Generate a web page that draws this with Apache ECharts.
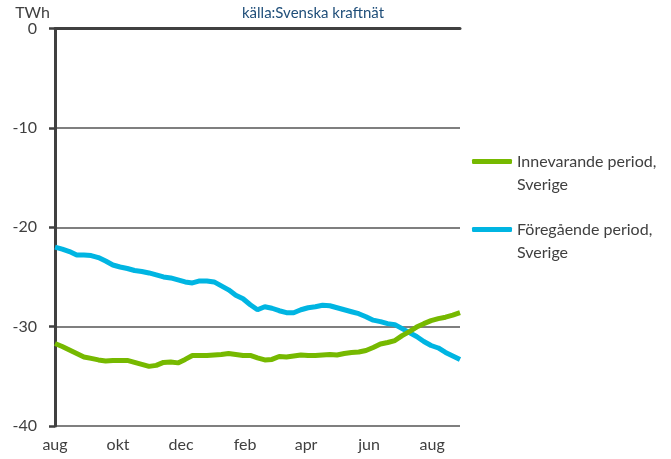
<!DOCTYPE html>
<html>
<head>
<meta charset="utf-8">
<script src="https://cdn.jsdelivr.net/npm/echarts@6/dist/echarts.min.js"></script>
<style>
  html, body { margin: 0; padding: 0; background: #fff; }
  #chart { width: 671px; height: 459px; }
</style>
</head>
<body>
<div id="chart"></div>
<script>
// veckodata, dagar från 1 aug
var days = [0, 7, 14, 21, 28, 35, 42, 49, 56, 63, 70, 77, 84, 91, 98, 105, 112, 119, 126, 133,
  140, 147, 154, 161, 168, 175, 182, 189, 196, 203, 210, 217, 224, 231, 238, 245, 252, 259, 266, 273,
  280, 287, 294, 301, 308, 315, 322, 329, 336, 343, 350, 357, 364, 371, 378, 385, 392];

var innevarande = [-31.7, -32.0, -32.35, -32.7, -33.05, -33.2, -33.35, -33.45, -33.4, -33.4,
  -33.4, -33.6, -33.8, -34.0, -33.9, -33.6, -33.55, -33.65, -33.3, -32.9,
  -32.9, -32.9, -32.85, -32.8, -32.7, -32.8, -32.9, -32.9, -33.15, -33.35,
  -33.3, -33.0, -33.05, -32.95, -32.85, -32.9, -32.9, -32.85, -32.8, -32.85,
  -32.7, -32.6, -32.55, -32.4, -32.1, -31.75, -31.6, -31.4, -30.9, -30.5,
  -30.05, -29.7, -29.4, -29.2, -29.05, -28.85, -28.6];

var foregaende = [-22.0, -22.2, -22.45, -22.8, -22.8, -22.85, -23.05, -23.4, -23.8, -24.0,
  -24.15, -24.35, -24.45, -24.6, -24.8, -25.0, -25.1, -25.3, -25.5, -25.6,
  -25.4, -25.4, -25.5, -25.9, -26.3, -26.85, -27.2, -27.8, -28.3, -28.0,
  -28.15, -28.4, -28.6, -28.6, -28.3, -28.1, -28.0, -27.85, -27.9, -28.1,
  -28.3, -28.5, -28.7, -29.0, -29.35, -29.5, -29.7, -29.8, -30.2, -30.6,
  -31.0, -31.5, -31.9, -32.15, -32.6, -32.95, -33.3];

// månadsetiketter (dag från 1 aug)
var monthDays = [0, 61, 122, 184, 243, 304, 365];
var monthLabels = ['aug', 'okt', 'dec', 'feb', 'apr', 'jun', 'aug'];

var seriesNames = ['Innevarande period,\nSverige', 'Föregående period,\nSverige'];

function pairs(xs, ys) {
  var out = [];
  for (var i = 0; i < xs.length; i++) out.push([xs[i], ys[i]]);
  return out;
}

var font = 'Lato, "Open Sans", sans-serif';
var axisColor = '#404040';

var chart = echarts.init(document.getElementById('chart'));

// tom första rad så att ikonen hamnar i höjd med första textraden
var legendBase = {
  orient: 'vertical',
  left: 467,
  itemWidth: 40,
  itemHeight: 5,
  icon: 'roundRect',
  selectedMode: false,
  formatter: function (name) { return ' \n' + name; },
  textStyle: {
    fontFamily: font,
    fontSize: 16,
    color: '#404040',
    lineHeight: 23
  },
  itemGap: 0
};

chart.setOption({
  animation: false,
  title: {
    text: 'källa:Svenska kraftnät',
    left: 237,
    top: 1,
    textStyle: { fontFamily: font, fontSize: 15, fontWeight: 'normal', color: '#1f4e79' }
  },
  legend: [
    Object.assign({}, legendBase, { top: 122, data: [seriesNames[0]] }),
    Object.assign({}, legendBase, { top: 190, data: [seriesNames[1]] })
  ],
  grid: { left: 55, right: 211, top: 28.5, bottom: 33, containLabel: false },
  xAxis: [
    {
      type: 'value',
      min: 0,
      max: 392,
      position: 'bottom',
      axisLine: { show: false },
      axisTick: { show: false },
      splitLine: { show: false },
      axisLabel: {
        customValues: monthDays,
        formatter: function (v) {
          var i = monthDays.indexOf(v);
          return i >= 0 ? monthLabels[i] : '';
        },
        margin: 11,
        fontFamily: font,
        fontSize: 16,
        color: axisColor
      }
    },
    {
      type: 'value',
      min: 0,
      max: 392,
      position: 'top',
      axisLine: { show: true, lineStyle: { color: axisColor, width: 3 } },
      axisTick: { show: false },
      axisLabel: { show: false },
      splitLine: { show: false }
    }
  ],
  yAxis: {
    type: 'value',
    min: -40,
    max: 0,
    interval: 10,
    name: 'TWh',
    nameLocation: 'end',
    nameGap: 14,
    nameTextStyle: {
      fontFamily: font, fontSize: 16, color: axisColor,
      align: 'right', verticalAlign: 'middle', padding: [0, 5, 0, 0]
    },
    axisLine: { show: true, lineStyle: { color: axisColor, width: 3 } },
    axisTick: { show: true, length: 6, lineStyle: { color: axisColor, width: 2.5 } },
    axisLabel: { margin: 18, fontFamily: font, fontSize: 16, color: axisColor },
    splitLine: { show: true, lineStyle: { color: '#555555', width: 1.5 } }
  },
  series: [
    {
      name: seriesNames[0],
      type: 'line',
      data: pairs(days, innevarande),
      showSymbol: false,
      symbol: 'none',
      lineStyle: { width: 5, color: '#76b900' },
      itemStyle: { color: '#76b900' },
      z: 3
    },
    {
      name: seriesNames[1],
      type: 'line',
      data: pairs(days, foregaende),
      showSymbol: false,
      symbol: 'none',
      lineStyle: { width: 5, color: '#00b5e2' },
      itemStyle: { color: '#00b5e2' },
      z: 2
    }
  ]
});
</script>
</body>
</html>
